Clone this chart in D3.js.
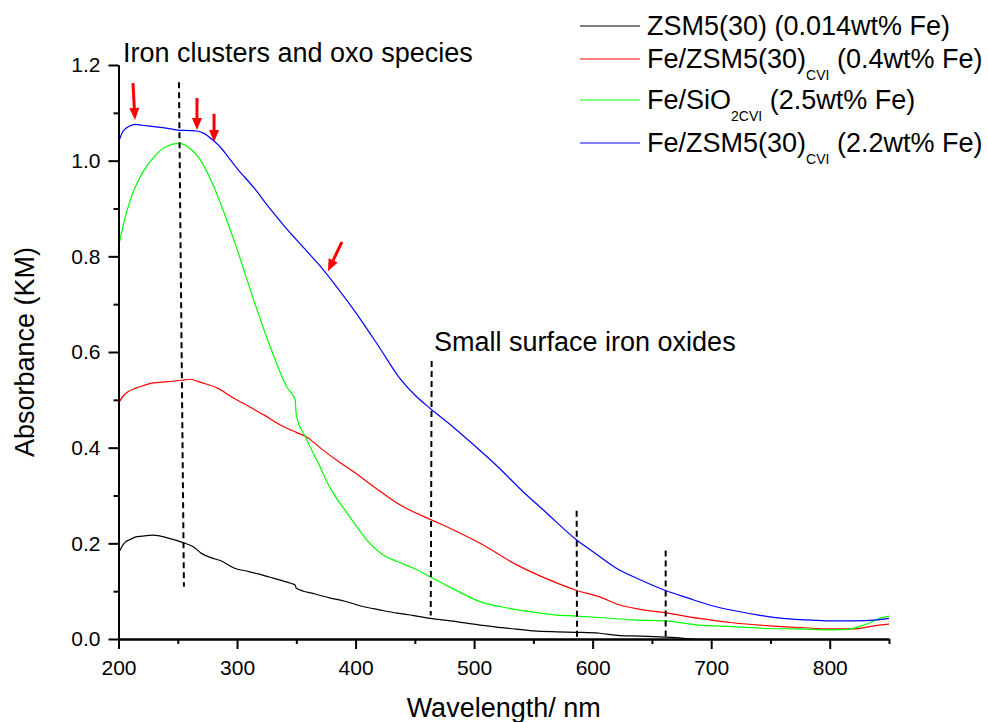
<!DOCTYPE html>
<html>
<head>
<meta charset="utf-8">
<script src="https://cdn.jsdelivr.net/npm/d3@7/dist/d3.min.js"></script>
<style>
  body { margin: 0; background: #fff; }
  svg { display: block; font-family: "Liberation Sans", Arial, sans-serif; }
</style>
</head>
<body>
<script>
// UV-vis spectra, values
const zsmWl  = [200, 203, 206, 210, 214, 220, 229, 242, 255, 263, 270, 279, 286, 298, 310, 321, 335, 346, 349, 350, 366, 378, 391, 406, 420, 435, 449, 463, 480, 505, 530, 550, 570, 586, 606, 623, 640, 661, 675, 684, 700, 750, 800, 850];
const zsmAbs = [0.179, 0.194, 0.203, 0.208, 0.213, 0.215, 0.217, 0.211, 0.201, 0.193, 0.179, 0.169, 0.164, 0.148, 0.141, 0.134, 0.124, 0.116, 0.113, 0.106, 0.094, 0.086, 0.079, 0.068, 0.061, 0.054, 0.049, 0.043, 0.038, 0.029, 0.022, 0.017, 0.015, 0.014, 0.012, 0.007, 0.006, 0.004, 0.002, 0.0, -0.002, -0.003, -0.003, -0.003];

const fe04Wl  = [200, 204, 208, 214, 220, 228, 242, 253, 260, 270, 284, 295, 310, 323, 337, 350, 359, 371, 385, 398, 420, 437, 463, 480, 505, 536, 564, 586, 606, 623, 640, 661, 690, 718, 747, 775, 803, 820, 836, 850];
const fe04Abs = [0.493, 0.508, 0.517, 0.524, 0.529, 0.535, 0.538, 0.541, 0.543, 0.536, 0.524, 0.507, 0.486, 0.468, 0.447, 0.432, 0.422, 0.398, 0.372, 0.350, 0.310, 0.281, 0.250, 0.231, 0.200, 0.155, 0.123, 0.102, 0.088, 0.071, 0.062, 0.055, 0.043, 0.034, 0.028, 0.024, 0.021, 0.021, 0.027, 0.031];

const sioWl  = [200, 205, 210, 220, 230, 240, 251, 260, 270, 280, 290, 300, 314, 328, 342, 349, 350, 358, 370, 378, 390, 401, 412, 423, 435, 449, 463, 480, 505, 530, 550, 570, 586, 606, 634, 662, 690, 718, 747, 775, 803, 815, 825, 835, 842, 850];
const sioAbs = [0.820, 0.875, 0.918, 0.974, 1.008, 1.029, 1.036, 1.026, 0.998, 0.948, 0.885, 0.815, 0.709, 0.611, 0.527, 0.500, 0.468, 0.421, 0.360, 0.318, 0.273, 0.235, 0.200, 0.176, 0.162, 0.148, 0.130, 0.108, 0.078, 0.064, 0.056, 0.050, 0.048, 0.045, 0.040, 0.038, 0.029, 0.026, 0.022, 0.021, 0.019, 0.020, 0.026, 0.035, 0.043, 0.048];

const fe22Wl  = [200, 203, 207, 211, 214, 220, 230, 240, 250, 260, 266, 272, 280, 286, 293, 300, 314, 328, 342, 350, 361, 370, 385, 400, 420, 437, 450, 463, 480, 500, 520, 540, 560, 586, 600, 620, 640, 661, 680, 700, 720, 740, 760, 780, 800, 820, 840, 850];
const fe22Abs = [1.038, 1.058, 1.069, 1.074, 1.076, 1.074, 1.071, 1.068, 1.064, 1.063, 1.062, 1.057, 1.042, 1.028, 1.006, 0.984, 0.944, 0.899, 0.857, 0.835, 0.805, 0.780, 0.733, 0.683, 0.610, 0.546, 0.510, 0.482, 0.448, 0.405, 0.360, 0.311, 0.266, 0.208, 0.183, 0.148, 0.124, 0.102, 0.086, 0.070, 0.059, 0.050, 0.043, 0.040, 0.038, 0.038, 0.040, 0.043];

// legend: main text, subscript, rest
const seriesNames = [
  ['ZSM5(30) (0.014wt% Fe)', '', ''],
  ['Fe/ZSM5(30)', 'CVI', ' (0.4wt% Fe)'],
  ['Fe/SiO', '2CVI', ' (2.5wt% Fe)'],
  ['Fe/ZSM5(30)', 'CVI', ' (2.2wt% Fe)']
];
const seriesColors = ['#000000', '#ff0000', '#00ff00', '#0000ff'];

const xTicks = [200, 300, 400, 500, 600, 700, 800];
const xMinor = [250, 350, 450, 550, 650, 750, 850];
const yTicks = [0.0, 0.2, 0.4, 0.6, 0.8, 1.0, 1.2];
const yMinor = [0.1, 0.3, 0.5, 0.7, 0.9, 1.1];

// dashed markers [wl top, abs top, wl bottom, abs bottom]
const markerLines = [
  [251.0, 1.164, 255.2, 0.109],
  [464.2, 0.581, 463.4, 0.049],
  [586.5, 0.268, 586.8, 0.004],
  [661.6, 0.185, 661.6, 0.005]
];
// red arrows [wl tail, abs tail, wl tip, abs tip]
const arrows = [
  [212.2, 1.162, 213.9, 1.085],
  [266.2, 1.131, 266.2, 1.064],
  [280.6, 1.098, 280.6, 1.039],
  [388.5, 0.830, 376.7, 0.769]
];

const w = 988, h = 722;
const svg = d3.select('body').append('svg').attr('width', w).attr('height', h);

const xScale = d3.scaleLinear().domain([200, 850]).range([118.5, 889]);
const yScale = d3.scaleLinear().domain([0, 1.2]).range([639, 65]);

svg.append('defs').append('clipPath').attr('id', 'plot')
  .append('rect').attr('x', 118.5).attr('y', 60).attr('width', 889 - 118.5).attr('height', 639 - 60);

// curves
const series = [[zsmWl, zsmAbs], [fe04Wl, fe04Abs], [sioWl, sioAbs], [fe22Wl, fe22Abs]];
const line = d3.line().x(d => xScale(d[0])).y(d => yScale(d[1])).curve(d3.curveMonotoneX);
const curves = svg.append('g').attr('clip-path', 'url(#plot)');
series.forEach((s, i) => {
  curves.append('path')
    .datum(s[0].map((x, j) => [x, s[1][j]]))
    .attr('d', line)
    .attr('fill', 'none')
    .attr('stroke', seriesColors[i])
    .attr('stroke-width', 1.2);
});

// dashed lines
svg.selectAll('line.marker').data(markerLines).enter().append('line')
  .attr('class', 'marker')
  .attr('x1', d => xScale(d[0])).attr('y1', d => yScale(d[1]))
  .attr('x2', d => xScale(d[2])).attr('y2', d => yScale(d[3]))
  .attr('stroke', '#000').attr('stroke-width', 2).attr('stroke-dasharray', '6,4');

// arrows
arrows.forEach(a => {
  const x1 = xScale(a[0]), y1 = yScale(a[1]), x2 = xScale(a[2]), y2 = yScale(a[3]);
  const ang = Math.atan2(y2 - y1, x2 - x1);
  const hl = 12, hw = 5;
  const bx = x2 - hl * Math.cos(ang), by = y2 - hl * Math.sin(ang);
  svg.append('line').attr('x1', x1).attr('y1', y1).attr('x2', bx).attr('y2', by)
    .attr('stroke', '#ff0000').attr('stroke-width', 3);
  svg.append('path')
    .attr('d', 'M' + x2 + ',' + y2 +
      'L' + (bx + hw * Math.sin(ang)) + ',' + (by - hw * Math.cos(ang)) +
      'L' + (bx - hw * Math.sin(ang)) + ',' + (by + hw * Math.cos(ang)) + 'Z')
    .attr('fill', '#ff0000');
});

// axes
svg.append('g').attr('transform', 'translate(0,639)')
  .call(d3.axisBottom(xScale).tickValues(xTicks).tickSize(10).tickSizeOuter(0).tickPadding(11).tickFormat(d3.format('d')));
svg.append('g').attr('transform', 'translate(0,639)')
  .call(d3.axisBottom(xScale).tickValues(xMinor).tickSize(5).tickSizeOuter(0).tickFormat(''));
svg.append('g').attr('transform', 'translate(118.5,0)')
  .call(d3.axisLeft(yScale).tickValues(yTicks).tickSize(10).tickSizeOuter(0).tickPadding(8).tickFormat(d3.format('.1f')));
svg.append('g').attr('transform', 'translate(118.5,0)')
  .call(d3.axisLeft(yScale).tickValues(yMinor).tickSize(5).tickSizeOuter(0).tickFormat(''));
svg.selectAll('.domain, .tick line').attr('stroke', '#000').attr('stroke-width', 2);
svg.selectAll('.tick text').attr('font-size', 21).attr('fill', '#000')
  .style('font-family', '"Liberation Sans", Arial, sans-serif');

// axis titles
svg.append('text').text('Wavelength/ nm')
  .attr('x', 503.7).attr('y', 717).attr('text-anchor', 'middle').attr('font-size', 27);
svg.append('text').text('Absorbance (KM)')
  .attr('transform', 'translate(34,352) rotate(-90)').attr('text-anchor', 'middle').attr('font-size', 27);

// annotations
svg.append('text').text('Iron clusters and oxo species').attr('x', 123).attr('y', 62).attr('font-size', 27);
svg.append('text').text('Small surface iron oxides').attr('x', 434).attr('y', 351).attr('font-size', 27);

// legend
const legendY = [26, 59, 100, 143];
const legend = svg.append('g').attr('id', 'legend');
seriesNames.forEach((n, i) => {
  legend.append('line').attr('x1', 580).attr('x2', 640).attr('y1', legendY[i]).attr('y2', legendY[i])
    .attr('stroke', seriesColors[i]).attr('stroke-width', 1.2);
  const t = legend.append('text').attr('x', 647).attr('y', legendY[i] + 9).attr('font-size', 27);
  t.append('tspan').text(n[0]);
  if (n[1]) {
    t.append('tspan').text(n[1]).attr('font-size', 14).attr('dy', 12);
    t.append('tspan').text(n[2]).attr('dy', -12);
  }
});
</script>
</body>
</html>
